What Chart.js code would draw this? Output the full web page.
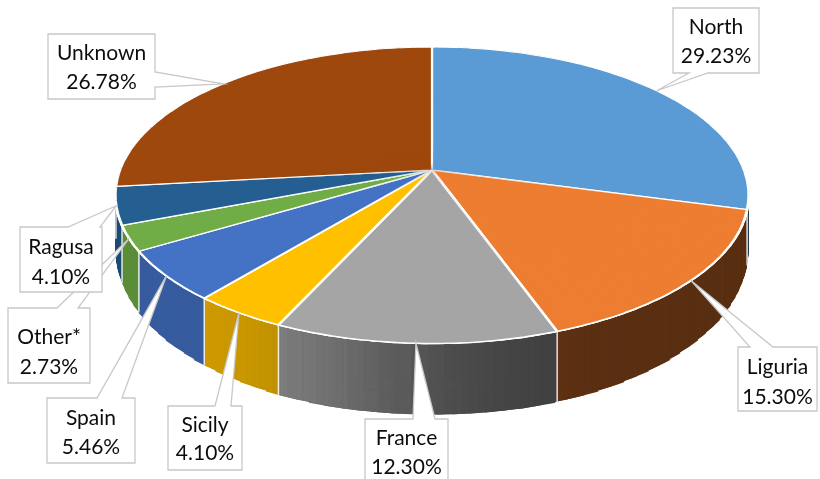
<!DOCTYPE html>
<html><head><meta charset="utf-8">
<script src="https://cdn.jsdelivr.net/npm/chart.js@4"></script>
<style>html,body{margin:0;padding:0;background:#fff;} canvas{display:block;}</style>
</head><body>
<canvas id="c" width="820" height="479"></canvas>
<script>
// ---- data ----
const categories = ['North', 'Liguria', 'France', 'Sicily', 'Spain', 'Other*', 'Ragusa', 'Unknown'];
const shares = [29.23, 15.30, 12.30, 4.10, 5.46, 2.73, 4.10, 26.78];
const sliceColors = ['#5B9BD5', '#ED7D31', '#A5A5A5', '#FFC000', '#4472C4', '#70AD47', '#255E91', '#9E480E'];

// ---- 3D view (perspective) settings ----
const VIEW = {cx: 432, cy: 170, A: 312, B: 144, k: -0.17, wedges: 144};
function depthAt(v) { return v > 0 ? 50 + 22 * v : 50; }
function shadeAt(thetaDeg) { return 0.60 + 0.22 * Math.tanh((thetaDeg - 190) / 18); }

// ---- callout boxes (label layout) ----
const callouts = [
  {box: [673, 8, 86, 65],   edge: 'bottom', base: [689, 708], ty: [19, 48]},
  {box: [738, 347, 79, 64], edge: 'top',    base: [750, 773], ty: [20, 50]},
  {box: [365, 419, 83, 66], edge: 'top',    base: [413, 435], ty: [19, 48]},
  {box: [168, 406, 74, 64], edge: 'top',    base: [215, 231], ty: [19, 47]},
  {box: [47, 398, 88, 65],  edge: 'top',    base: [97, 122],  ty: [20, 49]},
  {box: [8, 308, 82, 75],   edge: 'top',    base: [57, 78],   ty: [29, 59]},
  {box: [20, 227, 82, 65],  edge: 'top',    base: [68, 100],  ty: [20, 50]},
  {box: [48, 34, 107, 65],  edge: 'right',  base: [72, 87],   ty: [19, 48]}
];
const LABEL_FONT = '21px Lato, "Open Sans", sans-serif';

function proj(a) {
  const u = Math.cos(a), v = Math.sin(a);
  const s = 1 + VIEW.k * v;
  return [VIEW.A * u / s, VIEW.B * v / s];
}
function hexToRgb(h) {
  const n = parseInt(h.slice(1), 16);
  return [(n >> 16) & 255, (n >> 8) & 255, n & 255];
}
function shade(hex, f) {
  const c = hexToRgb(hex);
  return 'rgb(' + c.map(x => Math.round(Math.min(255, x * f))).join(',') + ')';
}

const pie3d = {
  id: 'pie3d',
  beforeDatasetsDraw(chart) {
    const ctx = chart.ctx;
    const arcs = chart.getDatasetMeta(0).data;
    if (!arcs.length) return false;
    const cx = arcs[0].x, cy = arcs[0].y, R = arcs[0].outerRadius;
    const N = VIEW.wedges, step = 2 * Math.PI / N, eps = step * 0.75;
    const wedges = [];
    for (let j = 0; j < N; j++) {
      const a0 = -Math.PI / 2 + j * step, a1 = a0 + step;
      const p0 = proj(a0), p1 = proj(a1);
      const q0x = R * Math.cos(a0), q0y = R * Math.sin(a0);
      const q1x = R * Math.cos(a1), q1y = R * Math.sin(a1);
      const det = q0x * q1y - q1x * q0y;
      const m11 = (p0[0] * q1y - p1[0] * q0y) / det, m12 = (p1[0] * q0x - p0[0] * q1x) / det;
      const m21 = (p0[1] * q1y - p1[1] * q0y) / det, m22 = (p1[1] * q0x - p0[1] * q1x) / det;
      const am = (a0 + a1) / 2;
      const theta = (am + Math.PI / 2) * 180 / Math.PI;
      const members = arcs.filter(el => el.startAngle < a1 + 2 * eps && el.endAngle > a0 - 2 * eps);
      const sideCols = members.map(el => shade(el.options.backgroundColor, shadeAt(theta)));
      wedges.push({a0, a1, am, m: [m11, m21, m12, m22], v: Math.sin(am), theta, members, sideCols});
    }
    function paint(w, dy, fn) {
      ctx.save();
      ctx.translate(VIEW.cx, VIEW.cy + dy);
      ctx.transform(w.m[0], w.m[1], w.m[2], w.m[3], 0, 0);
      ctx.translate(-cx, -cy);
      const rr = 1.6 * R;
      ctx.beginPath();
      ctx.moveTo(cx, cy);
      ctx.lineTo(cx + rr * Math.cos(w.a0 - eps), cy + rr * Math.sin(w.a0 - eps));
      ctx.lineTo(cx + rr * Math.cos(w.am), cy + rr * Math.sin(w.am));
      ctx.lineTo(cx + rr * Math.cos(w.a1 + eps), cy + rr * Math.sin(w.a1 + eps));
      ctx.closePath();
      ctx.clip();
      w.members.forEach((el, i) => fn(el, i));
      ctx.restore();
    }
    function drawWith(el, color) {
      const o = el.options;
      const t = Object.create(o);
      Object.defineProperty(t, 'backgroundColor', {value: color});
      Object.defineProperty(t, 'borderWidth', {value: 0});
      el.options = t;
      el.draw(ctx);
      el.options = o;
    }
    // side walls (stacked layers)
    const sideW = wedges.filter(w => w.v > -0.35);
    const maxD = Math.ceil(depthAt(1));
    for (let d = maxD; d >= 1; d--) {
      for (const w of sideW) {
        if (depthAt(w.v) < d) continue;
        paint(w, d, (el, i) => drawWith(el, w.sideCols[i]));
      }
    }
    // boundary lines on the side wall
    ctx.save();
    ctx.strokeStyle = 'rgba(255,255,255,0.85)';
    ctx.lineWidth = 1.5;
    arcs.forEach(el => {
      const a = el.startAngle;
      const v = Math.sin(a);
      if (v <= 0.05) return;
      const p = proj(a);
      ctx.beginPath();
      ctx.moveTo(VIEW.cx + p[0], VIEW.cy + p[1]);
      ctx.lineTo(VIEW.cx + p[0], VIEW.cy + p[1] + depthAt(v));
      ctx.stroke();
    });
    ctx.restore();
    // top face: colour underlay first, then bordered slices
    for (const w of wedges) paint(w, 0, el => drawWith(el, el.options.backgroundColor));
    for (const w of wedges) paint(w, 0, el => el.draw(ctx));
    return false;
  },
  afterDraw(chart) {
    const ctx = chart.ctx;
    const arcs = chart.getDatasetMeta(0).data;
    ctx.save();
    ctx.font = LABEL_FONT;
    ctx.textAlign = 'center';
    ctx.textBaseline = 'middle';
    arcs.forEach((el, i) => {
      const c = callouts[i];
      if (!c) return;
      const mid = (el.startAngle + el.endAngle) / 2;
      const p = proj(mid);
      const tx = VIEW.cx + p[0], tyy = VIEW.cy + p[1];
      const [x, y, w, h] = c.box;
      const [b1, b2] = c.base;
      ctx.beginPath();
      if (c.edge === 'top') {
        ctx.moveTo(x, y); ctx.lineTo(b1, y); ctx.lineTo(tx, tyy); ctx.lineTo(b2, y);
        ctx.lineTo(x + w, y); ctx.lineTo(x + w, y + h); ctx.lineTo(x, y + h);
      } else if (c.edge === 'bottom') {
        ctx.moveTo(x, y); ctx.lineTo(x + w, y); ctx.lineTo(x + w, y + h);
        ctx.lineTo(b2, y + h); ctx.lineTo(tx, tyy); ctx.lineTo(b1, y + h); ctx.lineTo(x, y + h);
      } else {
        ctx.moveTo(x, y); ctx.lineTo(x + w, y); ctx.lineTo(x + w, b1); ctx.lineTo(tx, tyy);
        ctx.lineTo(x + w, b2); ctx.lineTo(x + w, y + h); ctx.lineTo(x, y + h);
      }
      ctx.closePath();
      ctx.fillStyle = '#ffffff';
      ctx.fill();
      ctx.strokeStyle = '#c8c8c8';
      ctx.lineWidth = 1.3;
      ctx.stroke();
      ctx.fillStyle = '#0d0d0d';
      ctx.fillText(categories[i], x + w / 2, y + c.ty[0]);
      ctx.fillText(shares[i].toFixed(2) + '%', x + w / 2, y + c.ty[1]);
    });
    ctx.restore();
  }
};

new Chart(document.getElementById('c'), {
  type: 'pie',
  data: {
    labels: categories,
    datasets: [{data: shares, backgroundColor: sliceColors, borderColor: '#ffffff', borderWidth: 2}]
  },
  options: {
    responsive: false,
    animation: false,
    events: [],
    layout: {padding: 0},
    plugins: {legend: {display: false}, tooltip: {enabled: false}}
  },
  plugins: [pie3d]
});
</script>
</body></html>
